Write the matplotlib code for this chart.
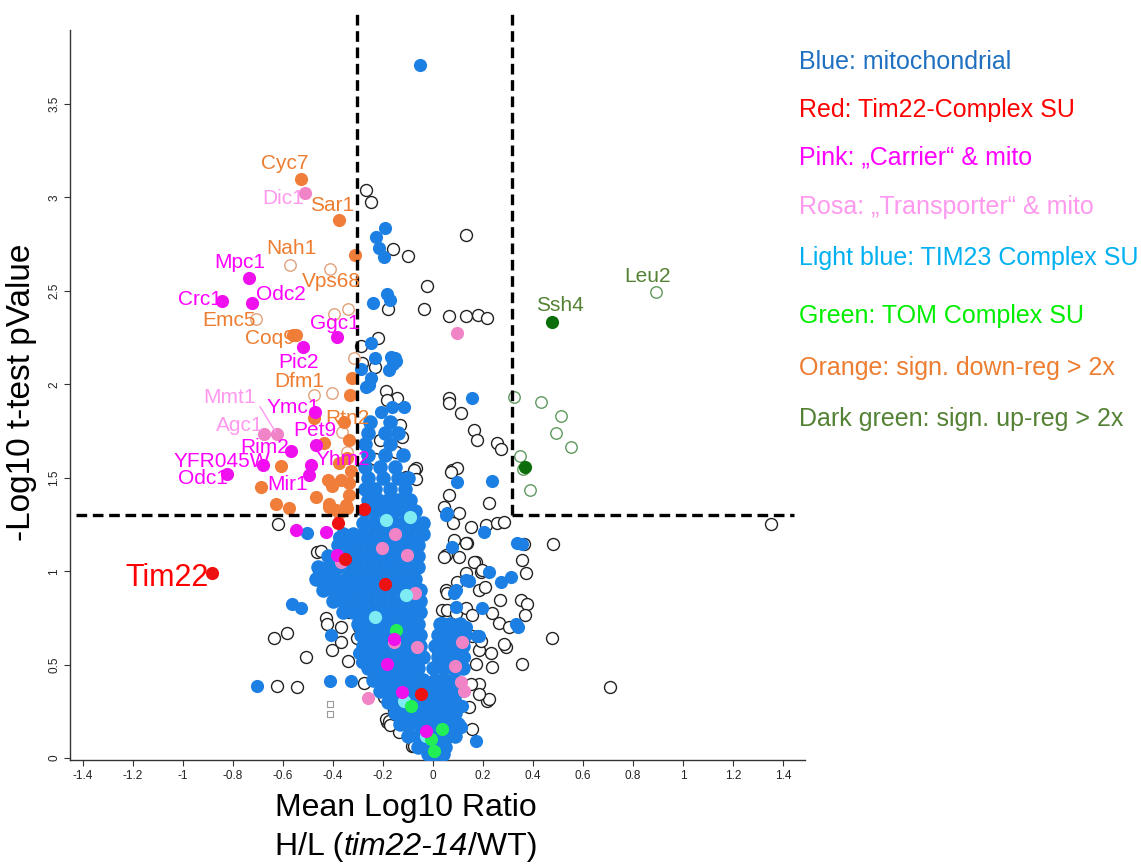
import matplotlib
matplotlib.use("Agg")
import matplotlib.pyplot as plt
from matplotlib.offsetbox import TextArea, HPacker, AnnotationBbox

# ---------------- data ----------------
other_pts = [  # open black circles: non-mitochondrial proteins
    (-0.268, 3.04), (-0.248, 2.976), (-0.16, 2.725), (-0.1, 2.688), (0.132, 2.8), (-0.024, 2.528),
    (-0.18, 2.4), (-0.036, 2.4), (0.064, 2.363), (0.132, 2.363), (0.18, 2.373), (0.216, 2.352),
    (-0.22, 2.245), (-0.288, 2.203), (-0.232, 2.091), (-0.284, 2.112), (-0.188, 1.963), (-0.144, 1.925),
    (0.064, 1.925), (-0.124, 1.717), (-0.068, 1.552), (-0.108, 1.504), (0.064, 1.899), (0.112, 1.845),
    (0.164, 1.755), (0.176, 1.701), (0.256, 1.685), (0.272, 1.653), (0.076, 1.541), (0.096, 1.552),
    (0.044, 1.344), (0.104, 1.312), (0.224, 1.365), (0.072, 1.531), (0.064, 1.408), (-0.076, 1.541),
    (-0.068, 1.493), (-0.184, 1.915), (-0.148, 1.637), (-0.62, 1.253),
    (0.152, 1.237), (0.212, 1.248), (0.256, 1.259), (0.284, 1.264), (0.136, 1.152), (0.052, 1.088),
    (0.172, 1.051), (0.356, 1.061), (0.192, 0.997), (0.372, 0.992), (0.052, 0.901), (0.352, 0.848),
    (0.376, 0.827), (0.264, 0.725), (0.304, 0.699), (0.156, 0.651), (0.184, 0.581), (0.292, 0.597),
    (0.356, 0.501), (0.216, 0.304), (0.184, 0.395), (0.036, 0.795), (1.352, 1.253), (0.364, 1.147),
    (0.48, 1.147), (0.368, 0.763), (0.476, 0.645), (0.708, 0.379), (0.08, 1.259), (0.084, 1.168),
    (0.132, 1.152), (0.044, 1.077), (0.104, 1.077), (0.164, 1.051), (0.196, 1.008), (0.132, 0.992),
    (0.096, 0.944), (0.056, 0.885), (0.184, 0.901), (0.208, 0.917), (0.056, 0.795), (0.092, 0.779),
    (0.132, 0.805), (0.156, 0.763), (0.236, 0.779), (0.268, 0.848), (0.192, 0.624), (0.232, 0.565),
    (0.284, 0.608), (0.236, 0.485), (0.172, 0.501), (0.152, 0.395), (0.224, 0.315), (0.184, 0.341),
    (0.156, 0.155), (0.144, 0.272), (0.024, 0.512), (0.02, 0.55),
    (-0.464, 1.104), (-0.448, 1.109), (-0.428, 0.747), (-0.424, 0.715), (-0.636, 0.645), (-0.584, 0.667),
    (-0.508, 0.539), (-0.368, 0.699), (-0.368, 0.619), (-0.404, 0.576), (-0.34, 0.517), (-0.624, 0.384),
    (-0.544, 0.379), (-0.276, 0.4), (-0.308, 0.917), (-0.296, 0.805), (-0.336, 0.784), (-0.296, 0.699),
    (-0.228, 0.955), (-0.184, 0.192), (-0.136, 0.139), (-0.188, 0.208), (-0.156, 0.251), (-0.084, 0.064),
    (-0.196, 0.325), (-0.176, 0.197), (-0.172, 0.176), (-0.076, 0.064), (-0.304, 0.845), (-0.26, 0.995),
    (-0.304, 0.641), (-0.23, 1.60), (-0.13, 1.78), (-0.21, 1.70),
]
up_open_pts = [(0.324, 1.931), (0.432, 1.904), (0.512, 1.829), (0.492, 1.739), (0.552, 1.664),
               (0.348, 1.616), (0.36, 1.547), (0.388, 1.435), (0.892, 2.496)]
down_open_pts = [(-0.572, 2.64), (-0.412, 2.619), (-0.34, 2.405), (-0.396, 2.378), (-0.708, 2.347),
                 (-0.316, 2.139), (-0.476, 1.941), (-0.404, 1.952), (-0.364, 1.744), (-0.344, 1.637)]
square_pts = [(-0.412, 0.288), (-0.412, 0.235)]

blue_pts = [
    (-0.052, 3.707), (-0.192, 2.837), (-0.228, 2.789), (-0.216, 2.731), (-0.196, 2.683), (-0.184, 2.485),
    (-0.172, 2.453), (-0.24, 2.432), (-0.248, 2.219), (-0.232, 2.139), (-0.168, 2.144), (-0.148, 2.123),
    (-0.176, 2.075), (-0.248, 2.032), (-0.288, 2.08), (-0.268, 1.984), (0.156, 1.925), (-0.256, 1.995),
    (-0.208, 1.851), (-0.164, 1.877), (-0.116, 1.877), (-0.152, 2.14), (-0.16, 2.11),
    (0.096, 1.477), (0.236, 1.483), (0.056, 1.312), (0.052, 1.301), (0.204, 1.211), (0.336, 1.152),
    (0.224, 0.997), (0.272, 0.944), (0.312, 0.971), (0.196, 0.805), (0.332, 0.715), (0.172, 0.091),
    (0.076, 1.131), (0.084, 0.885), (0.132, 0.955), (0.132, 0.704), (0.176, 0.651), (0.092, 0.811),
    (0.144, 0.949), (0.092, 0.901), (0.036, 0.725), (0.108, 0.704), (0.124, 0.539), (0.012, 0.395),
    (0.072, 0.341), (0.116, 0.277), (0.112, 0.165), (0.052, 0.224), (0.184, 0.651), (0.356, 1.147),
    (0.34, 0.70),
    (-0.504, 1.205), (-0.376, 1.184), (-0.456, 0.992), (-0.424, 0.992), (-0.564, 0.827), (-0.528, 0.805),
    (-0.408, 0.656), (-0.704, 0.384), (-0.412, 0.411), (-0.328, 0.411), (-0.404, 0.912), (-0.384, 0.891),
    (-0.284, 0.512), (-0.296, 0.565), (-0.36, 0.95), (-0.35, 0.86),
]
cloud_rows_y = [1.80, 1.74, 1.68, 1.62, 1.56, 1.50, 1.44, 1.38, 1.32, 1.26, 1.20, 1.14, 1.08, 1.02,
                0.96, 0.90, 0.84, 0.78, 0.72, 0.66, 0.60, 0.54, 0.48, 0.42, 0.36, 0.30, 0.24, 0.18,
                0.12, 0.06, 0.02]
cloud_rows_x = [
    [-0.25, -0.17],
    [-0.26, -0.19, -0.14],
    [-0.27, -0.17],
    [-0.26, -0.19, -0.12],
    [-0.27, -0.21, -0.15],
    [-0.26, -0.20, -0.14, -0.10],
    [-0.27, -0.23, -0.17, -0.11],
    [-0.26, -0.22, -0.18, -0.14, -0.09],
    [-0.27, -0.23, -0.19, -0.15, -0.11, -0.07],
    [-0.28, -0.24, -0.20, -0.16, -0.12, -0.08, -0.04],
    [-0.36, -0.32, -0.28, -0.24, -0.20, -0.16, -0.12, -0.08, -0.04],
    [-0.38, -0.34, -0.30, -0.26, -0.22, -0.18, -0.14, -0.10, -0.06],
    [-0.42, -0.38, -0.34, -0.30, -0.26, -0.22, -0.18, -0.14, -0.10, -0.06],
    [-0.46, -0.42, -0.38, -0.34, -0.30, -0.26, -0.22, -0.18, -0.14, -0.10, -0.06],
    [-0.47, -0.43, -0.39, -0.35, -0.31, -0.27, -0.23, -0.19, -0.15, -0.11, -0.07],
    [-0.44, -0.40, -0.36, -0.32, -0.28, -0.24, -0.20, -0.16, -0.12, -0.08, -0.05],
    [-0.40, -0.36, -0.32, -0.28, -0.24, -0.20, -0.16, -0.12, -0.08, -0.05],
    [-0.36, -0.32, -0.28, -0.24, -0.20, -0.16, -0.12, -0.08, -0.05],
    [-0.30, -0.26, -0.22, -0.18, -0.14, -0.10, -0.06, 0.03, 0.07, 0.11],
    [-0.29, -0.25, -0.21, -0.17, -0.13, -0.09, -0.05, 0.02, 0.06, 0.10, 0.13],
    [-0.28, -0.24, -0.20, -0.16, -0.12, -0.08, -0.05, 0.01, 0.05, 0.09, 0.12],
    [-0.27, -0.23, -0.19, -0.15, -0.11, -0.07, -0.04, 0.02, 0.06, 0.10],
    [-0.26, -0.22, -0.18, -0.14, -0.10, -0.06, 0.00, 0.04, 0.08, 0.12],
    [-0.24, -0.20, -0.16, -0.12, -0.08, -0.04, 0.01, 0.05, 0.09],
    [-0.21, -0.17, -0.13, -0.09, -0.05, -0.01, 0.03, 0.07, 0.10],
    [-0.18, -0.14, -0.10, -0.06, -0.02, 0.02, 0.06, 0.09],
    [-0.15, -0.11, -0.07, -0.03, 0.01, 0.05, 0.09],
    [-0.13, -0.09, -0.05, -0.01, 0.03, 0.07, 0.10],
    [-0.10, -0.06, -0.02, 0.02, 0.06, 0.09],
    [-0.06, -0.02, 0.02, 0.05],
    [-0.02, 0.01, 0.04],
]

rosa_pts = [(-0.512, 3.024), (-0.624, 1.733), (-0.676, 1.733), (0.096, 2.272), (-0.152, 1.2),
            (-0.204, 1.125), (-0.104, 1.088), (-0.368, 1.051), (-0.072, 0.885), (-0.156, 0.619),
            (-0.064, 0.597), (0.116, 0.619), (0.088, 0.491), (0.112, 0.405), (0.124, 0.357), (-0.26, 0.32)]
tim23_pts = [(-0.188, 1.275), (-0.092, 1.291), (-0.108, 0.875), (-0.232, 0.757), (-0.116, 0.304),
             (-0.028, 0.117)]
tom_pts = [(-0.148, 0.688), (-0.088, 0.277), (0.036, 0.155), (-0.008, 0.101), (0.004, 0.037)]
tim22_pts = [(-0.884, 0.992), (-0.276, 1.333), (-0.38, 1.259), (-0.352, 1.067), (-0.192, 0.933),
             (-0.048, 0.341)]
carrier_pts = [(-0.736, 2.571), (-0.844, 2.448), (-0.724, 2.437), (-0.384, 2.251), (-0.52, 2.197),
               (-0.472, 1.851), (-0.468, 1.675), (-0.568, 1.643), (-0.68, 1.568), (-0.824, 1.52),
               (-0.488, 1.568), (-0.496, 1.515), (-0.548, 1.221), (-0.428, 1.211), (-0.384, 1.088),
               (-0.184, 0.501), (-0.124, 0.352), (-0.028, 0.144), (-0.156, 0.635)]
down_pts = [(-0.528, 3.099), (-0.376, 2.88), (-0.312, 2.693), (-0.56, 2.261), (-0.548, 2.261),
            (-0.324, 2.032), (-0.476, 1.82), (-0.332, 1.941), (-0.356, 1.797), (-0.608, 1.563),
            (-0.688, 1.451), (-0.628, 1.36), (-0.576, 1.339), (-0.468, 1.397), (-0.42, 1.488),
            (-0.404, 1.456), (-0.368, 1.488), (-0.336, 1.472), (-0.416, 1.36), (-0.388, 1.328),
            (-0.344, 1.339), (-0.336, 1.408), (-0.336, 1.701), (-0.344, 1.605), (-0.436, 1.685),
            (-0.328, 1.536), (-0.376, 1.579), (-0.416, 1.344), (-0.348, 1.355), (-0.376, 1.312)]
up_pts = [(0.476, 2.331), (0.368, 1.557)]

label_names = ["Cyc7", "Dic1", "Sar1", "Nah1", "Vps68", "Mpc1", "Crc1", "Odc2", "Emc5", "Ggc1",
               "Coq9", "Pic2", "Dfm1", "Mmt1", "Ymc1", "Rtn2", "Agc1", "Pet9", "Rim2", "YFR045W",
               "Yhm2", "Odc1", "Mir1", "Ssh4", "Leu2"]
label_groups = ["down", "rosa", "down", "down", "down", "carrier", "carrier", "carrier", "down",
                "carrier", "down", "carrier", "down", "rosa", "carrier", "down", "rosa", "carrier",
                "carrier", "carrier", "carrier", "carrier", "carrier", "up", "up"]
legend_texts = ["Blue: mitochondrial", "Red: Tim22-Complex SU", "Pink: \u201eCarrier\u201c & mito",
                "Rosa: \u201eTransporter\u201c & mito", "Light blue: TIM23 Complex SU",
                "Green: TOM Complex SU", "Orange: sign. down-reg > 2x", "Dark green: sign. up-reg > 2x"]
x_ticks = [-1.4, -1.2, -1.0, -0.8, -0.6, -0.4, -0.2, 0.0, 0.2, 0.4, 0.6, 0.8, 1.0, 1.2, 1.4]
x_tick_labels = ["-1.4", "-1.2", "-1", "-0.8", "-0.6", "-0.4", "-0.2", "0", "0.2", "0.4", "0.6",
                 "0.8", "1", "1.2", "1.4"]
y_ticks = [0, 0.5, 1, 1.5, 2, 2.5, 3, 3.5]
y_tick_labels = ["0", "0.5", "1", "1.5", "2", "2.5", "3", "3.5"]
fc_cut = 0.305     # log10 fold-change thresholds
p_cut = 1.3        # -log10(0.05)

# ---------------- styling / layout ----------------
W, H = 1141, 865
SANS = ["Liberation Sans", "DejaVu Sans"]
plt.rcParams["font.family"] = SANS

col = {
    "blue": "#1b7fe3", "blue_txt": "#1f70c1", "red": "#ee1111", "red_txt": "#ff0000",
    "carrier": "#ee11ee", "carrier_txt": "#ff00ff", "rosa": "#f184c6", "rosa_txt": "#ff99ee",
    "tim23": "#7eecf2", "tim23_txt": "#00b0f0", "tom": "#22ee55", "tom_txt": "#00ee00",
    "down": "#f07e3a", "down_txt": "#ed7d31", "up": "#0b6e0b", "up_txt": "#548235",
    "down_open": "#e0a27c", "up_open": "#5e9a5e",
}
label_color = {"down": col["down_txt"], "rosa": col["rosa_txt"], "carrier": col["carrier_txt"],
               "up": col["up_txt"]}

fig = plt.figure(figsize=(W / 100, H / 100), dpi=100)
ax = fig.add_axes([70 / W, (H - 760) / H, 735 / W, 730 / H])
ax.set_xlim(-1.452, 1.488)
ax.set_ylim(-0.01, 3.895)


def xy(pts):
    return [p[0] for p in pts], [p[1] for p in pts]


S = 90
ax.scatter(*xy(other_pts), s=74, facecolors="white", edgecolors="#222222", linewidths=1.0, zorder=2)
ax.scatter(*xy(square_pts), s=14, marker="s", facecolors="white", edgecolors="#999999",
           linewidths=0.8, zorder=2)
cloud = [(x, y) for y, xs in zip(cloud_rows_y, cloud_rows_x) for x in xs]
ax.scatter(*xy(cloud), s=110, color=col["blue"], linewidths=0, zorder=3)
ax.scatter(*xy(blue_pts), s=S, color=col["blue"], linewidths=0, zorder=3)
ax.scatter(*xy(down_open_pts), s=68, facecolors="white", edgecolors=col["down_open"],
           linewidths=1.0, zorder=3)
ax.scatter(*xy(up_open_pts), s=68, facecolors="white", edgecolors=col["up_open"],
           linewidths=1.0, zorder=3)
ax.scatter(*xy(rosa_pts), s=S, color=col["rosa"], linewidths=0, zorder=4)
ax.scatter(*xy(tim23_pts), s=S, color=col["tim23"], linewidths=0, zorder=4)
ax.scatter(*xy(tom_pts), s=S, color=col["tom"], linewidths=0, zorder=4)
ax.scatter(*xy(down_pts), s=S, color=col["down"], linewidths=0, zorder=4)
ax.scatter(*xy(carrier_pts), s=S, color=col["carrier"], linewidths=0, zorder=5)
ax.scatter(*xy(tim22_pts), s=S, color=col["red"], linewidths=0, zorder=5)
ax.scatter(*xy(up_pts), s=S, color=col["up"], linewidths=0, zorder=5)

# threshold lines (extend above the plotting box)
dash = dict(color="black", lw=2.4, linestyle=(0, (3.2, 1.7)), clip_on=False, zorder=6)
ax.plot([-fc_cut, -fc_cut], [p_cut, 4.0], **dash)
ax.plot([fc_cut + 0.01, fc_cut + 0.01], [p_cut, 4.0], **dash)
ax.plot([-1.428, -fc_cut], [p_cut, p_cut], **dash)
ax.plot([fc_cut + 0.01, 1.445], [p_cut, p_cut], **dash)

# point labels (positions are layout, in data units)
label_pos = [(-0.592, 3.182), (-0.60, 2.995), (-0.404, 2.957), (-0.568, 2.727), (-0.408, 2.551),
             (-0.772, 2.652), (-0.932, 2.455), (-0.608, 2.481), (-0.816, 2.342), (-0.392, 2.326),
             (-0.652, 2.246), (-0.536, 2.118), (-0.536, 2.016), (-0.812, 1.93), (-0.56, 1.877),
             (-0.344, 1.818), (-0.772, 1.781), (-0.472, 1.754), (-0.672, 1.663), (-0.844, 1.588),
             (-0.36, 1.599), (-0.92, 1.497), (-0.58, 1.465), (0.508, 2.422), (0.86, 2.578)]
for name, grp, (lx, ly) in zip(label_names, label_groups, label_pos):
    ax.text(lx, ly, name, color=label_color[grp], fontsize=15, ha="center", va="center", zorder=7)
ax.text(-1.064, 0.963, "Tim22", color=col["red_txt"], fontsize=22, ha="center", va="center", zorder=7)
ax.plot([-0.692, -0.63], [1.88, 1.745], color=col["rosa_txt"], lw=1.0, zorder=7)

# axes styling
for side in ("top", "right"):
    ax.spines[side].set_visible(False)
for side in ("left", "bottom"):
    ax.spines[side].set_color("#333333")
    ax.spines[side].set_linewidth(1.0)
ax.set_xticks(x_ticks)
ax.set_xticklabels(x_tick_labels, fontsize=8.5)
ax.set_yticks(y_ticks)
ax.set_yticklabels(y_tick_labels, fontsize=8.5, rotation=90, va="center")
ax.tick_params(length=4, width=0.8, color="#333333", labelcolor="#222222", pad=3)

# axis titles
fig.text(22 / W, 1 - 392 / H, "-Log10 t-test pValue", rotation=90, fontsize=24,
         ha="center", va="center")
fig.text(406 / W, 1 - 808 / H, "Mean Log10 Ratio", fontsize=23, ha="center", va="center")
parts = [TextArea("H/L (", textprops=dict(fontsize=23)),
         TextArea("tim22-14", textprops=dict(fontsize=23, style="italic")),
         TextArea("/WT)", textprops=dict(fontsize=23))]
box = HPacker(children=parts, align="baseline", pad=0, sep=0)
ab = AnnotationBbox(box, (406, H - 847), xycoords="figure pixels", frameon=False,
                    box_alignment=(0.5, 0.5))
fig.add_artist(ab)

# colour key on the right
key_colors = [col["blue_txt"], col["red_txt"], col["carrier_txt"], col["rosa_txt"],
              col["tim23_txt"], col["tom_txt"], col["down_txt"], col["up_txt"]]
key_y = [62, 110, 157, 207, 258, 316, 368, 419]
for t, c, yy in zip(legend_texts, key_colors, key_y):
    fig.text(799 / W, 1 - yy / H, t, color=c, fontsize=18, ha="left", va="center")

fig.savefig("out.png", dpi=100)
